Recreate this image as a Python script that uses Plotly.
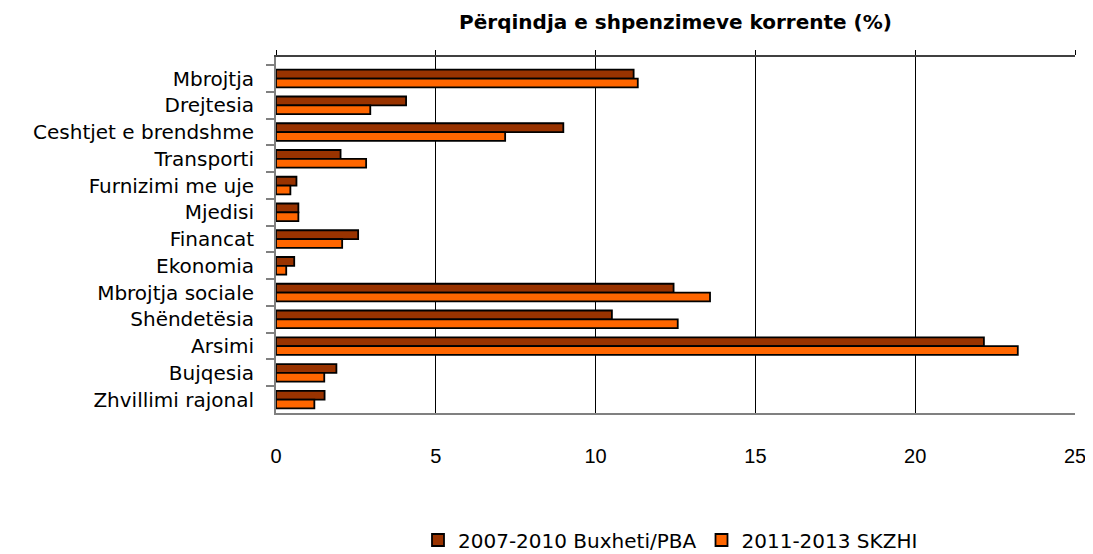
import plotly.graph_objects as go

categories = ["Mbrojtja", "Drejtesia", "Ceshtjet e brendshme", "Transporti",
              "Furnizimi me uje", "Mjedisi", "Financat", "Ekonomia",
              "Mbrojtja sociale", "Shëndetësia", "Arsimi", "Bujqesia",
              "Zhvillimi rajonal"]
series_2007_2010 = [11.19, 4.07, 8.99, 2.02, 0.64, 0.70, 2.57, 0.57,
                    12.44, 10.51, 22.15, 1.89, 1.52]
series_2011_2013 = [11.32, 2.95, 7.17, 2.82, 0.45, 0.70, 2.07, 0.32,
                    13.58, 12.57, 23.21, 1.51, 1.20]
x_ticks = [0, 5, 10, 15, 20, 25]
title_text = "Përqindja e shpenzimeve korrente (%)"
name_a = "2007-2010 Buxheti/PBA"
name_b = "2011-2013 SKZHI"

# page body has an 8px default margin: size the figure so it ends at the window edge
OFF = 8
W, H = 1093 - OFF, 554 - OFF

cat_font = dict(family="DejaVu Sans", size=20, color="#000000")
num_font = dict(family="Liberation Sans", size=20, color="#000000")

fig = go.Figure()
fig.add_trace(go.Bar(y=categories, x=series_2007_2010, orientation="h", name=name_a,
                     marker=dict(color="#993300", line=dict(color="#000000", width=1.8))))
fig.add_trace(go.Bar(y=categories, x=series_2011_2013, orientation="h", name=name_b,
                     marker=dict(color="#FF6600", line=dict(color="#000000", width=1.8))))
# invisible trace on the top axis so the top line with its small ticks is drawn
fig.add_trace(go.Scatter(x=[0, 25], y=[categories[0], categories[0]], xaxis="x2",
                         mode="markers", marker=dict(opacity=0), showlegend=False,
                         hoverinfo="skip"))

plot_left, plot_right, plot_top, plot_bottom = 276, 1075, 57, 413

fig.update_layout(
    width=W, height=H,
    paper_bgcolor="white", plot_bgcolor="white",
    margin=dict(l=plot_left - OFF, r=W + OFF - plot_right, t=plot_top - OFF,
                b=H + OFF - plot_bottom, autoexpand=False),
    barmode="group", bargap=0.34, bargroupgap=0.0,
    title=dict(text=title_text, x=((plot_left + plot_right) / 2 - OFF) / W,
               xanchor="center", y=1 - (22 - OFF) / H, yanchor="middle",
               font=dict(family="DejaVu Sans", size=20, color="#000000", weight="bold")),
    xaxis=dict(range=[0, 25], tickvals=x_ticks, ticktext=[str(v) for v in x_ticks],
               showgrid=True, gridcolor="#000000", gridwidth=1,
               showline=True, linecolor="#808080", linewidth=2, mirror=True,
               ticks="", tickfont=num_font, ticklabelstandoff=24, zeroline=False,
               automargin=False),
    xaxis2=dict(range=[0, 25], overlaying="x", side="top", tickvals=x_ticks,
                showticklabels=False, ticks="outside", ticklen=5, tickcolor="#000000",
                showline=True, linecolor="#404040", linewidth=2, showgrid=False,
                zeroline=False, automargin=False),
    yaxis=dict(autorange="reversed", type="category", tickson="boundaries",
               ticks="outside", ticklen=8, tickcolor="#808080", tickwidth=2,
               showline=True, linecolor="#808080", linewidth=2,
               showgrid=False, tickfont=cat_font, ticklabelstandoff=16,
               automargin=False),
    legend=dict(orientation="h", x=(418 - plot_left) / (plot_right - plot_left),
                xanchor="left", y=(plot_bottom - 540) / (plot_bottom - plot_top),
                yanchor="middle",
                font=dict(family="DejaVu Sans", size=20, color="#000000"),
                itemwidth=30, tracegroupgap=0),
    showlegend=True,
)

fig.write_html("out.html")
